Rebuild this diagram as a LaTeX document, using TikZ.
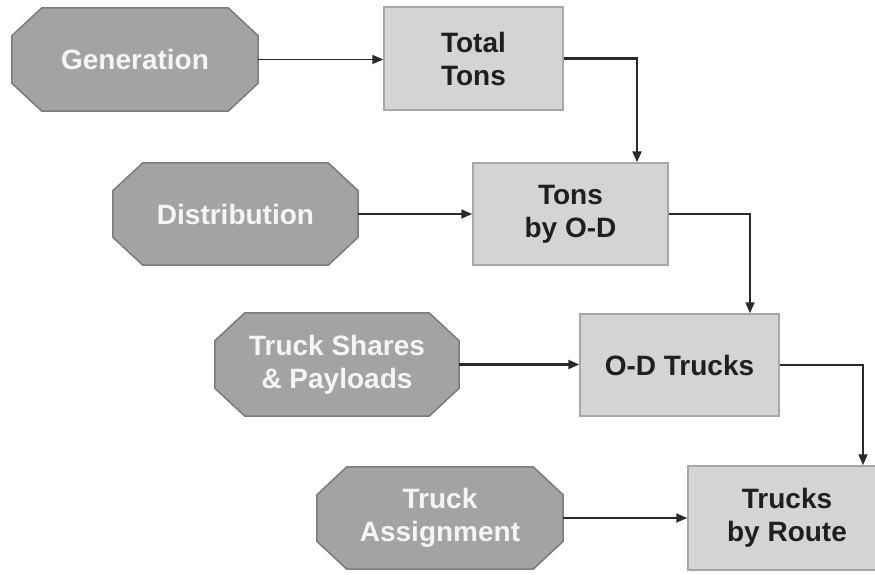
\documentclass[tikz,border=0pt]{standalone}
\usepackage{fontspec}
\setmainfont{Liberation Sans}
\usetikzlibrary{arrows.meta}
\pgfdeclarelayer{bg}
\pgfsetlayers{bg,main}
\definecolor{octfill}{HTML}{A3A3A3}
\definecolor{octline}{HTML}{7C7C7C}
\definecolor{boxfill}{HTML}{D4D4D4}
\definecolor{boxline}{HTML}{A8A8A8}
\definecolor{arrowcol}{HTML}{2A2A2A}
\tikzset{
  octnode/.style={rectangle, inner sep=0pt, text=white!96!black, align=center,
    font=\fontsize{28}{33}\selectfont\bfseries},
  boxnode/.style={rectangle, draw=boxline, line width=1.5pt, fill=boxfill, inner sep=0pt,
    text=black!88, align=center, font=\fontsize{28}{33}\selectfont\bfseries},
  flow/.style={draw=arrowcol, line width=1.7pt, -{Triangle[length=11pt,width=9pt]}},
  heavy/.style={flow, line width=2.4pt},
}
\newcommand\octshape[1]{%
  \begin{pgfonlayer}{bg}
  \filldraw[fill=octfill, draw=octline, line width=1.5pt]
    ([xshift=30pt]#1.north west) -- ([xshift=-30pt]#1.north east)
    -- ([yshift=-28pt]#1.north east) -- ([yshift=28pt]#1.south east)
    -- ([xshift=-30pt]#1.south east) -- ([xshift=30pt]#1.south west)
    -- ([yshift=28pt]#1.south west) -- ([yshift=-28pt]#1.north west) -- cycle;
  \end{pgfonlayer}}
\begin{document}
\begin{tikzpicture}[x=1pt,y=-1pt]
\useasboundingbox (0,0) rectangle (875,574);
\clip (0,0) rectangle (875,574);
% octagons
\node[octnode, minimum width=246pt, minimum height=103pt] (gen) at (135,59.5) {Generation};
\node[octnode, minimum width=245pt, minimum height=102pt] (dist) at (235.5,214) {Distribution};
\node[octnode, minimum width=244pt, minimum height=103pt] (tsp) at (337,364.5) {Truck Shares\\\& Payloads};
\node[octnode, minimum width=246pt, minimum height=102pt] (ta) at (440,518) {Truck\\Assignment};
\octshape{gen}
\octshape{dist}
\octshape{tsp}
\octshape{ta}
% boxes
\node[boxnode, minimum width=179pt, minimum height=103pt] (tt) at (473.5,58.5) {Total\\Tons};
\node[boxnode, minimum width=195pt, minimum height=102pt] (tod) at (570.5,214) {Tons\\by O-D};
\node[boxnode, minimum width=199pt, minimum height=102pt] (odt) at (679.5,365) {O-D Trucks};
\node[boxnode, minimum width=198pt, minimum height=104pt] (tbr) at (787,518) {Trucks\\by Route};
% connectors
\draw[flow] (gen.east) -- (gen.east -| tt.west);
\draw[heavy] (tt.east) -| ([xshift=66.5pt]tod.north);
\draw[flow] (dist.east) -- (dist.east -| tod.west);
\draw[flow] (tod.east) -| ([xshift=70.5pt]odt.north);
\draw[heavy] (tsp.east) -- (tsp.east -| odt.west);
\draw[flow] (odt.east) -| ([xshift=76pt]tbr.north);
\draw[flow] (ta.east) -- (ta.east -| tbr.west);
\end{tikzpicture}
\end{document}
